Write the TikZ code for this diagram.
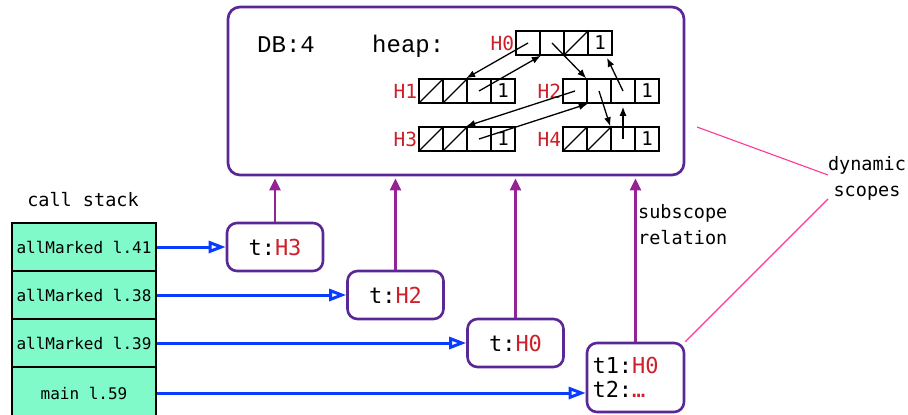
\documentclass[tikz,border=0pt]{standalone}
\usepackage{fontspec}
\newfontfamily\sansmono{DejaVu Sans Mono}
\newfontfamily\typewriter{Liberation Mono}
\usetikzlibrary{arrows.meta,calc}

\definecolor{scopeviolet}{RGB}{90,40,150}
\definecolor{relpurple}{RGB}{150,35,150}
\definecolor{heapred}{RGB}{205,32,42}
\definecolor{callblue}{RGB}{10,60,255}
\definecolor{stackgreen}{RGB}{128,250,200}
\definecolor{notepink}{RGB}{255,55,150}

\tikzset{
  dbframe/.style={draw=scopeviolet, line width=2.7pt, rounded corners=12pt,
    minimum width=456pt, minimum height=168pt, inner sep=0pt},
  scopebox/.style={draw=scopeviolet, line width=2.6pt, rounded corners=10pt,
    fill=white, inner sep=0pt, minimum width=96pt, minimum height=48pt,
    font={\sansmono\fontsize{22}{24}\selectfont}},
  stackbox/.style={draw=black, line width=2.8pt, fill=stackgreen, inner sep=0pt,
    minimum width=144pt, minimum height=48pt,
    font={\sansmono\fontsize{16}{19}\selectfont}},
  cell/.style={draw=black, line width=1.5pt, minimum size=24pt, inner sep=0pt,
    font={\sansmono\fontsize{19}{22}\selectfont}},
  slash/.style={draw=black, line width=1.3pt},
  hlabel/.style={text=heapred, inner sep=1pt, anchor=east,
    font={\sansmono\fontsize{19.5}{22}\selectfont}},
  ptr/.style={draw=black, line width=1.3pt, -{Latex[length=9pt,width=7pt]}},
  relarrow/.style={draw=relpurple, line width=2.6pt,
    -{Triangle[length=12pt,width=11pt]}, shorten >=2pt},
  callarrow/.style={draw=callblue, line width=3pt,
    -{Triangle[open,length=17pt,width=12pt,line width=3pt]}},
  notelink/.style={draw=notepink, line width=1.1pt},
  courier/.style={inner sep=0pt, font={\typewriter\fontsize{24}{28}\selectfont}},
  note/.style={inner sep=0pt, font={\sansmono\fontsize{18.5}{26}\selectfont}},
}

\begin{document}
\begin{tikzpicture}[x=1pt,y=-1pt]
\useasboundingbox (0,0) rectangle (908,415);

% dynamic scope of the database
\node[dbframe] (db) at (456,91) {};
\node[courier, anchor=base west] (dblabel) at (257,52) {DB:4};
\node[courier, anchor=base west] (heaplabel) at (372,52) {heap:};

% heap records, four cells each
\foreach \r/\x/\y in {H0/516/31, H1/419/79, H2/563/79, H3/419/127, H4/563/127} {
  \foreach \i in {1,2,3} \node[cell] (\r-\i) at (\x+24*\i-12, \y+12) {};
  \node[cell] (\r-4) at (\x+84, \y+12) {1};
  \node[hlabel] (\r-name) at (\r-1.west) {\r};
}

% empty (null) fields
\foreach \c in {H0-3, H1-1, H1-2, H3-1, H3-2, H4-1, H4-2}
  \draw[slash] (\c.south west) -- (\c.north east);

% pointers between records
\draw[ptr] (H0-1.center) -- (H1-3.north west);
\draw[ptr] (H1-3.center) -- (H0-1.south east);
\draw[ptr] (H0-2.center) -- (H2-2.north west);
\draw[ptr] (H2-3.center) -- ($(H0-4.south)+(7,2)$);
\draw[ptr] (H2-1.center) -- (H3-3.north west);
\draw[ptr] (H3-3.center) -- (H2-1.south east);
\draw[ptr] (H2-2.center) -- (H4-3.north west);
\draw[ptr] (H4-3.center) -- ($(H2-3.south)+(0,3)$);

% call stack
\node[note, anchor=base] (stacktitle) at (83,206) {call stack};
\node[stackbox] (k1) at (84,247) {allMarked l.41};
\node[stackbox] (k2) at (84,295) {allMarked l.38};
\node[stackbox] (k3) at (84,343) {allMarked l.39};
\node[stackbox, minimum height=52pt] (k4) at (84,393) {main l.59};

% local scopes of the frames
\node[scopebox] (s1) at (275,247) {t:\textcolor{heapred}{H3}};
\node[scopebox] (s2) at (395.5,295) {t:\textcolor{heapred}{H2}};
\node[scopebox] (s3) at (515.5,343) {t:\textcolor{heapred}{H0}};
\node[scopebox, minimum width=97pt, minimum height=69pt,
      text width=86pt, align=left] (s4) at (635.5,377.5)
      {t1:\textcolor{heapred}{H0}\\t2:\textcolor{heapred}{…}};

% frames point to their scopes
\draw[callarrow] (k1.east) -- (s1.west);
\draw[callarrow] (k2.east) -- (s2.west);
\draw[callarrow] (k3.east) -- (s3.west);
\draw[callarrow] (k4.east) -- (k4.east -| s4.west);

% subscope relation
\draw[relarrow] (s1.north) -- (s1.north |- db.south);
\draw[relarrow] (s2.north) -- (s2.north |- db.south);
\draw[relarrow] (s3.north) -- (s3.north |- db.south);
\draw[relarrow] (s4.north) -- (s4.north |- db.south);
\node[note, align=left, anchor=north west] (subrel) at (638,204.5) {subscope\\relation};

% annotation
\node[note, align=center, anchor=north] (dyn) at (867,156) {dynamic\\scopes};
\coordinate (dbmark) at (697,127);
\coordinate (dynin1) at (828,175);
\coordinate (dynin2) at (828,199);
\draw[notelink] (dbmark) -- (dynin1);
\draw[notelink] (dynin2) -- (s4.north east);
\end{tikzpicture}
\end{document}
